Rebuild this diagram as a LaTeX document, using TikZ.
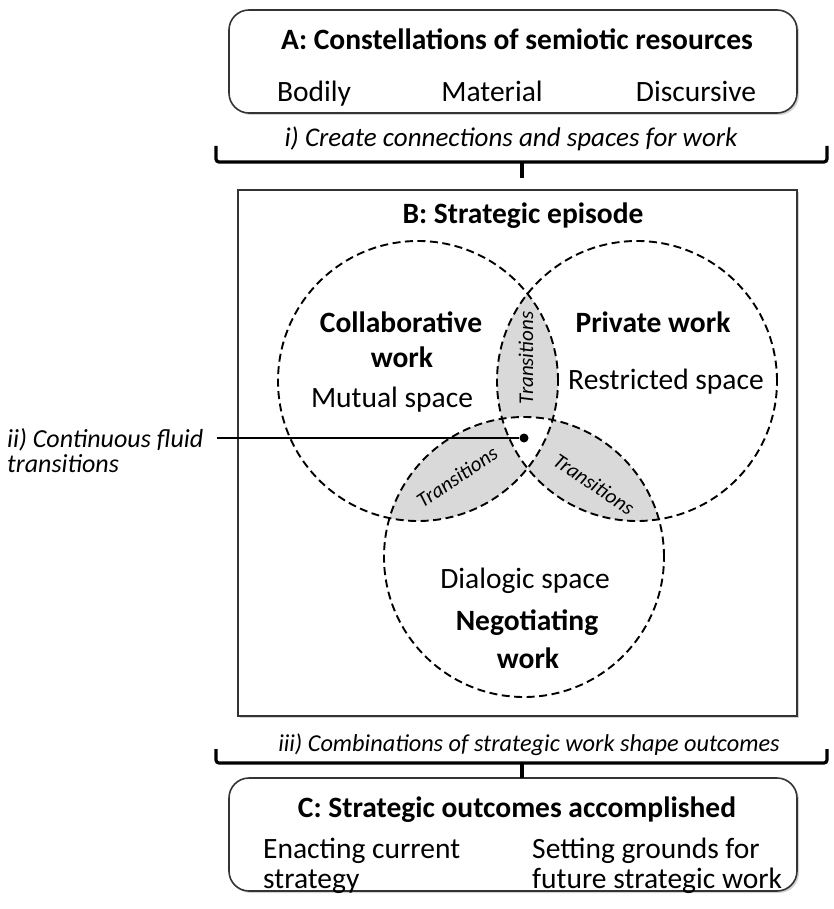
\documentclass[tikz,border=0pt]{standalone}
\usepackage{fontspec}
\setmainfont{Carlito}
\usetikzlibrary{shadows}

\tikzset{%
  outer box/.style={
    draw=black!80,
    line width=1.6pt,
    fill=white,
    drop shadow={shadow xshift=2pt, shadow yshift=-2pt, opacity=0.35}
  },
  work circle/.style={
    circle,
    draw,
    line width=1.9pt,
    dash pattern=on 8pt off 4.5pt,
    minimum size=280pt,
    inner sep=0pt
  },
  bracket/.style={line width=3.2pt, rounded corners=3pt},
  title/.style={font=\fontsize{29.5}{33}\selectfont\bfseries, anchor=base},
  body/.style={font=\fontsize{29.5}{33}\selectfont, anchor=base},
  note/.style={font=\fontsize{26}{29}\selectfont\itshape, anchor=base},
  trans/.style={font=\fontsize{21}{23}\selectfont\itshape, inner sep=1pt},
}

\begin{document}
\begin{tikzpicture}[x=1pt, y=-1pt]
  \useasboundingbox (0,0) rectangle (833,909);

  % draw the three boxes
  \node [outer box, rounded corners=20pt, minimum width=568pt, minimum height=103pt] (box-a) at (513,61.5) {};
  \node [outer box, minimum width=559pt, minimum height=526pt] (box-b) at (517.5,453) {};
  \node [outer box, rounded corners=20pt, minimum width=568pt, minimum height=113pt] (box-c) at (513,834.5) {};

  % box A
  \node [title] (title-a) at (517,50) {A: Constellations of semiotic resources};
  \foreach \l/\x in {Bodily/314, Material/492, Discursive/696}
  {
    \node [body] (res-\l) at (\x,102) {\l};
  }

  % centres of the work circles
  \coordinate (c-collab) at (418,381);
  \coordinate (c-private) at (637,381);
  \coordinate (c-negot) at (524,557);

  % shade the transitions
  \foreach \a/\b in {collab/private, collab/negot, private/negot}
  {
    \begin{scope}
      \clip (c-\a) circle [radius=140pt];
      \fill [black!15] (c-\b) circle [radius=140pt];
    \end{scope}
  }
  \begin{scope}
    \clip (c-collab) circle [radius=140pt];
    \clip (c-private) circle [radius=140pt];
    \fill [white] (c-negot) circle [radius=140pt];
  \end{scope}

  % draw work circles
  \foreach \c in {collab, private, negot}
  \node [work circle] (circle-\c) at (c-\c) {};

  % box B
  \node [title] (title-b) at (523,223) {B: Strategic episode};
  \node [title] (collab-1) at (401,332) {Collaborative};
  \node [title] (collab-2) at (402,367) {work};
  \node [body] (collab-space) at (392,407) {Mutual space};
  \node [title] (private-1) at (653,332) {Private work};
  \node [body] (private-space) at (666,389) {Restricted space};
  \node [body] (negot-space) at (525,588) {Dialogic space};
  \node [title] (negot-1) at (527,630) {Negotiating};
  \node [title] (negot-2) at (528,668) {work};

  \node [trans, rotate=90] (trans-1) at (526,358) {Transitions};
  \node [trans, rotate=34] (trans-2) at (457,477) {Transitions};
  \node [trans, rotate=-34] (trans-3) at (594,484) {Transitions};

  % continuous transitions
  \node [circle, fill, inner sep=0pt, minimum size=9pt] (dot) at (524,438) {};
  \coordinate (line-start) at (217,438);
  \draw [line width=1.4pt] (line-start) -- (dot);
  \node [note, anchor=base west, inner sep=0pt] (note-ii-1) at (7,447) {ii) Continuous fluid};
  \node [note, anchor=base west, inner sep=0pt] (note-ii-2) at (7,472) {transitions};

  % draw brackets
  \node [note, font=\fontsize{27}{30}\selectfont\itshape] (note-i) at (511,147) {i) Create connections and spaces for work};
  \draw [bracket] (216,146) -- (216,162) -- (827,162) -- (827,146);
  \draw [bracket] (522,162) -- (522,178);

  \node [note, font=\fontsize{24.3}{27}\selectfont\itshape] (note-iii) at (529,751) {iii) Combinations of strategic work shape outcomes};
  \draw [bracket] (216,749) -- (216,763) -- (827,763) -- (827,749);
  \draw [bracket] (522,763) -- (522,778);

  % box C
  \node [title] (title-c) at (517,817) {C: Strategic outcomes accomplished};
  \node [body, anchor=base west, inner sep=0pt] (out-1a) at (263,858) {Enacting current};
  \node [body, anchor=base west, inner sep=0pt] (out-1b) at (263,888) {strategy};
  \node [body, anchor=base west, inner sep=0pt] (out-2a) at (532,858) {Setting grounds for};
  \node [body, anchor=base west, inner sep=0pt] (out-2b) at (532,888) {future strategic work};

\end{tikzpicture}
\end{document}
